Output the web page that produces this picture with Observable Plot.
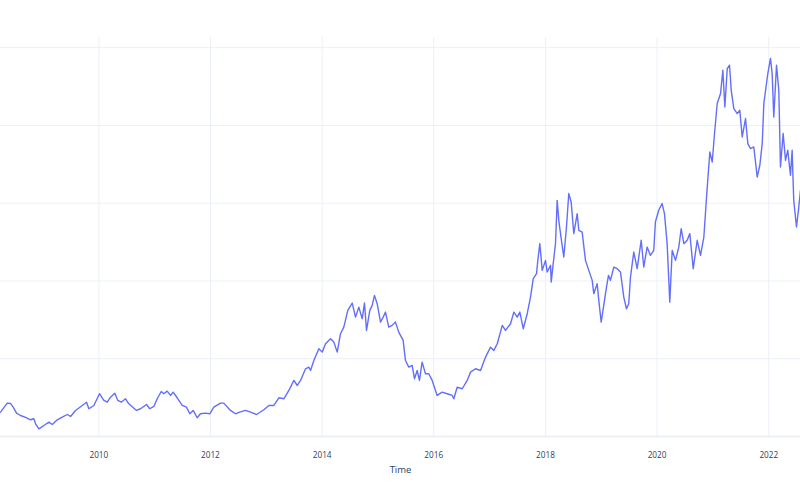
<!DOCTYPE html>
<html><head><meta charset="utf-8">
<script src="https://cdn.jsdelivr.net/npm/d3@7"></script>
<script src="https://cdn.jsdelivr.net/npm/@observablehq/plot@0.6"></script>
<style>html,body{margin:0;padding:0;background:#fff;}</style>
</head><body><div id="chart"></div>
<script>
// Time as decimal years
const years = [
2008.239,2008.359,2008.418,2008.466,2008.526,2008.597,2008.687,2008.776,2008.835,2008.866,
2008.925,2009.015,2009.104,2009.165,2009.255,2009.344,2009.434,2009.493,2009.582,2009.702,
2009.779,2009.821,2009.910,2010.012,2010.089,2010.150,2010.209,2010.286,2010.340,2010.401,
2010.478,2010.537,2010.675,2010.747,2010.854,2010.913,2010.985,2011.046,2011.118,2011.164,
2011.225,2011.284,2011.332,2011.404,2011.494,2011.571,2011.630,2011.691,2011.762,2011.821,
2011.911,2011.988,2012.060,2012.180,2012.239,2012.359,2012.448,2012.525,2012.627,2012.717,
2012.824,2012.955,2013.045,2013.134,2013.224,2013.313,2013.403,2013.493,2013.554,2013.613,
2013.702,2013.761,2013.792,2013.851,2013.941,2014.001,2014.060,2014.150,2014.209,2014.270,
2014.329,2014.388,2014.460,2014.539,2014.598,2014.657,2014.718,2014.759,2014.795,2014.854,
2014.897,2014.938,2014.986,2015.046,2015.094,2015.135,2015.194,2015.255,2015.314,2015.373,
2015.452,2015.493,2015.553,2015.613,2015.655,2015.703,2015.744,2015.792,2015.852,2015.911,
2015.972,2016.061,2016.151,2016.240,2016.330,2016.359,2016.419,2016.509,2016.599,2016.658,
2016.747,2016.837,2016.926,2017.016,2017.075,2017.136,2017.226,2017.284,2017.374,2017.433,
2017.494,2017.541,2017.602,2017.673,2017.732,2017.781,2017.840,2017.863,2017.899,2017.942,
2018.001,2018.031,2018.091,2018.103,2018.139,2018.180,2018.210,2018.239,2018.282,2018.329,
2018.377,2018.418,2018.461,2018.508,2018.569,2018.598,2018.658,2018.717,2018.777,2018.838,
2018.866,2018.927,2018.956,2018.999,2019.045,2019.094,2019.130,2019.165,2019.225,2019.286,
2019.345,2019.404,2019.452,2019.493,2019.524,2019.583,2019.644,2019.716,2019.762,2019.823,
2019.882,2019.941,2019.971,2020.030,2020.091,2020.133,2020.181,2020.228,2020.271,2020.330,
2020.389,2020.432,2020.479,2020.539,2020.586,2020.647,2020.718,2020.777,2020.837,2020.885,
2020.944,2020.987,2021.028,2021.076,2021.136,2021.177,2021.213,2021.256,2021.297,2021.327,
2021.374,2021.435,2021.481,2021.524,2021.584,2021.625,2021.673,2021.732,2021.793,2021.840,
2021.883,2021.912,2021.983,2022.031,2022.061,2022.090,2022.139,2022.180,2022.210,2022.258,
2022.300,2022.341,2022.389,2022.419,2022.448,2022.497,2022.538,2022.569
];
const values = [
313,429,425,377,300,270,245,215,228,163,
99,142,184,154,215,248,283,257,335,399,
441,357,399,550,463,441,506,557,463,441,
485,421,335,357,412,357,386,485,579,550,
583,528,570,498,399,377,292,335,241,292,
300,292,377,429,429,335,292,313,335,313,
283,344,399,399,498,485,592,721,656,721,
871,892,849,978,1129,1085,1193,1257,1214,1085,
1322,1407,1622,1716,1535,1664,1515,1716,1364,1622,
1686,1815,1708,1471,1535,1600,1407,1429,1471,1342,
1236,978,892,914,743,849,721,956,807,807,
721,528,570,550,528,485,634,614,721,828,
871,849,1021,1149,1107,1193,1429,1364,1450,1600,
1535,1600,1386,1579,1793,2030,2094,2265,2480,2136,
2265,2115,2201,1986,2223,2480,3037,2780,2544,2308,
2694,3124,3015,2609,2866,2651,2629,2265,2136,2008,
1837,1965,1750,1471,1686,1921,2072,2008,2179,2158,
2115,1793,1643,1708,2050,2372,2158,2523,2179,2436,
2329,2394,2758,2909,2995,2866,2480,1728,2394,2265,
2436,2673,2480,2523,2609,2158,2523,2329,2565,3080,
3659,3530,3896,4282,4411,4710,4238,4732,4775,4453,
4217,4153,4196,3852,4089,3767,3703,3723,3337,3488,
3767,4282,4668,4861,4668,4109,4775,4453,3466,3896,
3552,3681,3359,3681,3037,2694,2951,3166
];
const yTicks = [0, 1000, 2000, 3000, 4000, 5000];
const xTickYears = [2010, 2012, 2014, 2016, 2018, 2020, 2022];
const xDomainYears = [2008.239, 2022.569];
const yDomain = [0, 5131];
const xLabel = "Time";

function decToDate(y) {
  const yr = Math.floor(y);
  const s = Date.UTC(yr, 0, 1), e = Date.UTC(yr + 1, 0, 1);
  return new Date(s + (y - yr) * (e - s));
}
const data = years.map((y, i) => ({date: decToDate(y), value: values[i]}));
const xTicks = xTickYears.map(y => new Date(Date.UTC(y, 0, 1)));

const chart = Plot.plot({
  width: 800, height: 500,
  marginLeft: 0, marginRight: 0, marginTop: 37, marginBottom: 64,
  style: {fontFamily: "'Open Sans', sans-serif", background: "#fff", overflow: "visible"},
  x: {type: "utc", domain: xDomainYears.map(decToDate), axis: null},
  y: {domain: yDomain, axis: null},
  marks: [
    Plot.ruleY(yTicks.slice(1), {stroke: "#EBF0F8", strokeWidth: 1}),
    Plot.ruleX(xTicks, {stroke: "#EBF0F8", strokeWidth: 1}),
    Plot.ruleY([yTicks[0]], {stroke: "#EBF0F8", strokeWidth: 2}),
    Plot.lineY(data, {x: "date", y: "value", stroke: "#636efa", strokeWidth: 1.4, clip: true}),
    Plot.axisX(xTicks, {tickSize: 0, tickPadding: 16, tickFormat: "%Y", fontSize: 8.2, fill: "#2a3f5f", label: null}),
    Plot.text([xLabel], {frameAnchor: "bottom", dy: 36.7, fontSize: 9.5, fill: "#2a3f5f"})
  ]
});
document.getElementById("chart").appendChild(chart);
</script>
</body></html>
